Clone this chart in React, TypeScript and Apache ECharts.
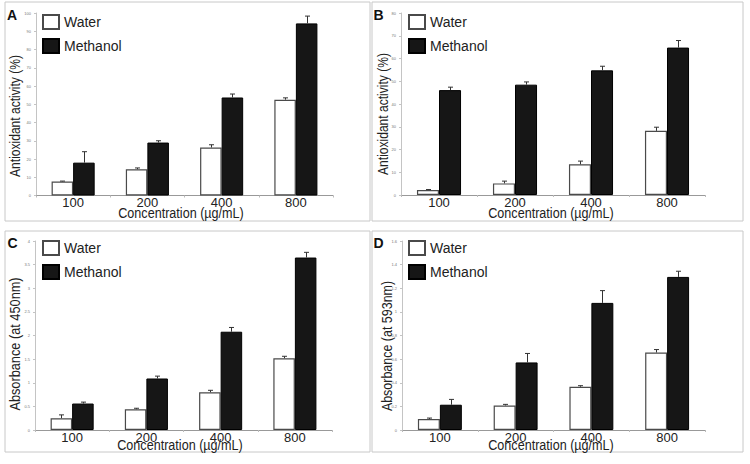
import React, { useEffect, useRef } from "react";
import * as echarts from "echarts";

const categories = ["100", "200", "400", "800"];

// Panel A – antioxidant activity (%)
const waterA = [7.7, 14.4, 26.3, 52.5];
const waterErrA = [0.2, 0.7, 1.5, 1.0];
const methanolA = [18.0, 29.0, 53.7, 94.3];
const methanolErrA = [6.0, 1.0, 1.9, 4.0];

// Panel B – antioxidant activity (%)
const waterB = [2.2, 5.1, 13.5, 28.2];
const waterErrB = [0.2, 1.0, 1.4, 1.6];
const methanolB = [46.1, 48.5, 54.8, 64.8];
const methanolErrB = [1.3, 1.2, 1.8, 3.1];

// Panel C – absorbance at 450nm
const waterC = [0.25, 0.44, 0.8, 1.52];
const waterErrC = [0.07, 0.02, 0.04, 0.04];
const methanolC = [0.56, 1.09, 2.08, 3.65];
const methanolErrC = [0.03, 0.05, 0.09, 0.11];

// Panel D – absorbance at 593nm
const waterD = [0.093, 0.208, 0.366, 0.656];
const waterErrD = [0.008, 0.009, 0.009, 0.025];
const methanolD = [0.214, 0.572, 1.076, 1.296];
const methanolErrD = [0.045, 0.076, 0.104, 0.048];

const yMax = [100, 80, 4, 1.6];
const yInterval = [10, 10, 0.5, 0.2];
const yTitles = [
  "Antioxidant activity (%)",
  "Antioxidant activity (%)",
  "Absorbance (at 450nm)",
  "Absorbance (at 593nm)",
];
const panelLetters = ["A", "B", "C", "D"];
const xTitle = "Concentration (\u00b5g/mL)";
const seriesNames = ["Water", "Methanol"];

const FONT = "Liberation Sans, Arial, sans-serif";
const BAR_FRAC = 0.29;

export default function App() {
  const ref = useRef<HTMLDivElement>(null);

  useEffect(() => {
    if (!ref.current) return;
    const chart = echarts.init(ref.current, undefined, { renderer: "svg" });

    const panels = [
      { w: waterA, we: waterErrA, m: methanolA, me: methanolErrA },
      { w: waterB, we: waterErrB, m: methanolB, me: methanolErrB },
      { w: waterC, we: waterErrC, m: methanolC, me: methanolErrC },
      { w: waterD, we: waterErrD, m: methanolD, me: methanolErrD },
    ];

    const grids = [
      { left: 36, right: 417, top: 13, bottom: 268.5 },
      { left: 401, right: 45, top: 13, bottom: 269 },
      { left: 35, right: 418, top: 241, bottom: 34 },
      { left: 402, right: 45, top: 241, bottom: 34 },
    ];

    const borders = [
      { x: 5, y: 2, width: 365, height: 219 },
      { x: 372, y: 2, width: 371, height: 219 },
      { x: 5, y: 231, width: 365, height: 221 },
      { x: 372, y: 231, width: 371, height: 221 },
    ];

    const legendPos = [
      { left: 42, top: 14 },
      { left: 408, top: 14 },
      { left: 42, top: 240 },
      { left: 408, top: 240 },
    ];

    const yTitlePos = [
      { x: 15, y: 116, len: 122 },
      { x: 383, y: 114, len: 122 },
      { x: 15.5, y: 344, len: 134 },
      { x: 387, y: 346, len: 131 },
    ];
    const xTitlePos = [
      { x: 181, y: 213 },
      { x: 551, y: 213 },
      { x: 180, y: 445 },
      { x: 551, y: 445 },
    ];
    const letterPos = [
      { x: 12, y: 14.5 },
      { x: 378.5, y: 14.5 },
      { x: 12.5, y: 243 },
      { x: 378.5, y: 243 },
    ];

    const errRender = (params: any, api: any) => {
      const cat = api.value(0);
      const val = api.value(1);
      const err = api.value(2);
      const side = api.value(3);
      const band = api.size([1, 0])[0];
      const bw = band * BAR_FRAC;
      const base = api.coord([cat, val]);
      const top = api.coord([cat, val + err]);
      const x = Math.round(base[0] + (side * bw) / 2) + 0.5;
      const style = { stroke: "#333", lineWidth: 1 };
      return {
        type: "group",
        children: [
          { type: "line", shape: { x1: x, y1: base[1], x2: x, y2: top[1] }, style },
          { type: "line", shape: { x1: x - 2.5, y1: top[1], x2: x + 2.5, y2: top[1] }, style },
        ],
      };
    };

    const series: any[] = [];
    panels.forEach((p, i) => {
      series.push({
        name: "Water",
        type: "bar",
        xAxisIndex: i,
        yAxisIndex: i,
        data: p.w,
        barWidth: BAR_FRAC * 100 + "%",
        barGap: "0%",
        itemStyle: { color: "#ffffff", borderColor: "#4a4a4a", borderWidth: 1.2 },
      });
      series.push({
        name: "Methanol",
        type: "bar",
        xAxisIndex: i,
        yAxisIndex: i,
        data: p.m,
        barWidth: BAR_FRAC * 100 + "%",
        barGap: "0%",
        itemStyle: { color: "#161616", borderColor: "#000000", borderWidth: 1 },
      });
      series.push({
        name: "errW" + i,
        type: "custom",
        xAxisIndex: i,
        yAxisIndex: i,
        renderItem: errRender,
        z: 5,
        data: p.w.map((v, k) => [k, v, p.we[k], -1]),
      });
      series.push({
        name: "errM" + i,
        type: "custom",
        xAxisIndex: i,
        yAxisIndex: i,
        renderItem: errRender,
        z: 5,
        data: p.m.map((v, k) => [k, v, p.me[k], 1]),
      });
    });

    const graphics: any[] = [];
    borders.forEach((b) => {
      graphics.push({
        type: "rect",
        shape: b,
        style: { fill: "none", stroke: "#c8c8c8", lineWidth: 1 },
        silent: true,
      });
    });
    yTitlePos.forEach((t, i) => {
      const size = 14.5;
      const natural = yTitles[i] === yTitles[0] ? 10.114 * size : 10.505 * size;
      graphics.push({
        type: "text",
        x: t.x,
        y: t.y,
        rotation: Math.PI / 2,
        scaleX: t.len / natural,
        style: {
          text: yTitles[i],
          font: `${size}px ${FONT}`,
          fill: "#222",
          align: "center",
          verticalAlign: "middle",
        },
      });
    });
    xTitlePos.forEach((t) => {
      graphics.push({
        type: "text",
        x: t.x,
        y: t.y,
        scaleX: 0.84,
        style: {
          text: xTitle,
          font: `15px ${FONT}`,
          fill: "#222",
          align: "center",
          verticalAlign: "middle",
        },
      });
    });
    letterPos.forEach((t, i) => {
      graphics.push({
        type: "text",
        x: t.x,
        y: t.y,
        style: {
          text: panelLetters[i],
          font: `bold 14px ${FONT}`,
          fill: "#111",
          align: "center",
          verticalAlign: "middle",
        },
      });
    });

    chart.setOption({
      animation: false,
      backgroundColor: "#ffffff",
      textStyle: { fontFamily: FONT },
      grid: grids,
      legend: legendPos.map((lp) => ({
        data: seriesNames,
        orient: "vertical",
        left: lp.left,
        top: lp.top,
        padding: 0,
        itemWidth: 16,
        itemHeight: 14,
        itemGap: 8,
        icon: "rect",
        textStyle: { fontSize: 14, color: "#222", fontFamily: FONT },
      })),
      xAxis: grids.map((_, i) => ({
        type: "category",
        gridIndex: i,
        data: categories,
        axisLine: { lineStyle: { color: "#999", width: 1 } },
        axisTick: { show: true, length: 2, lineStyle: { color: "#bbb" } },
        axisLabel: { fontSize: 13, lineHeight: 12, color: "#222", margin: 1 },
      })),
      yAxis: grids.map((_, i) => ({
        type: "value",
        gridIndex: i,
        min: 0,
        max: yMax[i],
        interval: yInterval[i],
        axisLine: { show: true, lineStyle: { color: "#c4c4c4", width: 1 } },
        axisTick: { show: true, length: 2, lineStyle: { color: "#c4c4c4" } },
        axisLabel: { fontSize: 4, color: "#777", margin: 5 },
        splitLine: { show: false },
      })),
      series,
      graphic: graphics,
    });

    return () => chart.dispose();
  }, []);

  return (
    <div
      ref={ref}
      style={{ position: "fixed", left: 0, top: 0, width: 750, height: 464 }}
    />
  );
}
